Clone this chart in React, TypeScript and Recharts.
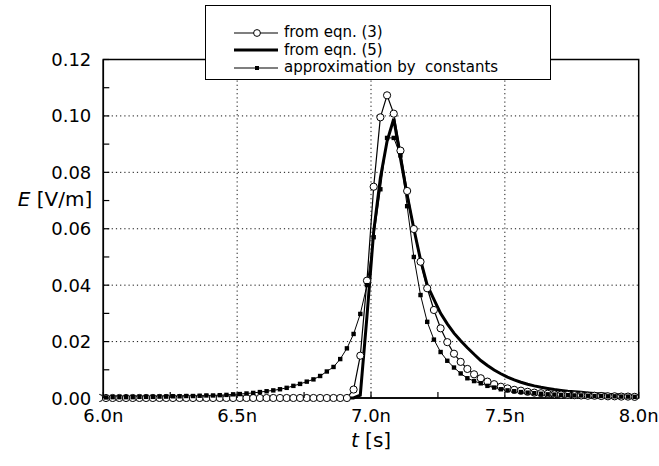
import {
  LineChart,
  Line,
  XAxis,
  YAxis,
  CartesianGrid,
  Legend,
  ReferenceArea,
} from "recharts";

// time samples in ns (0.025 ns step)
const timeNs = [
  5.96, 5.985, 6.01, 6.035, 6.06, 6.085, 6.11, 6.135, 6.16, 6.185,
  6.21, 6.235, 6.26, 6.285, 6.31, 6.335, 6.36, 6.385, 6.41, 6.435,
  6.46, 6.485, 6.51, 6.535, 6.56, 6.585, 6.61, 6.635, 6.66, 6.685,
  6.71, 6.735, 6.76, 6.785, 6.81, 6.835, 6.86, 6.885, 6.91, 6.935,
  6.96, 6.985, 7.01, 7.035, 7.06, 7.085, 7.11, 7.135, 7.16, 7.185,
  7.21, 7.235, 7.26, 7.285, 7.31, 7.335, 7.36, 7.385, 7.41, 7.435,
  7.46, 7.485, 7.51, 7.535, 7.56, 7.585, 7.61, 7.635, 7.66, 7.685,
  7.71, 7.735, 7.76, 7.785, 7.81, 7.835, 7.86, 7.885, 7.91, 7.935,
  7.96, 7.985,
];

// E [V/m] from eqn. (3) (open circles)
const eqn3 = [
  0, 0, 0, 0, 0, 0, 0, 0, 0, 0,
  0, 0, 0, 0, 0, 0, 0, 0, 0, 0,
  0, 0, 0, 0, 0, 0, 0, 0, 0, 0,
  0, 0, 0, 0, 0, 0, 0, 0, 0, 0.003,
  0.015, 0.0416, 0.0749, 0.0995, 0.1073, 0.1008, 0.0877, 0.0734, 0.0599, 0.0483,
  0.0389, 0.0312, 0.0247, 0.0198, 0.0157, 0.0128, 0.0103, 0.0084, 0.007, 0.0058,
  0.0049, 0.004, 0.0034, 0.0029, 0.0026, 0.0022, 0.0019, 0.0017, 0.0015, 0.0013,
  0.0012, 0.0011, 0.001, 0.0009, 0.0008, 0.0008, 0.0007, 0.0006, 0.0006, 0.0005,
  0.0005, 0.0004,
];

// E [V/m] from eqn. (5) (thick line)
const eqn5 = [
  0, 0, 0, 0, 0, 0, 0, 0, 0, 0,
  0, 0, 0, 0, 0, 0, 0, 0, 0, 0,
  0, 0, 0, 0, 0, 0, 0, 0, 0, 0,
  0, 0, 0, 0, 0, 0, 0, 0, 0, 0,
  0.001, 0.029, 0.059, 0.078, 0.091, 0.099, 0.085, 0.072, 0.06, 0.049,
  0.04, 0.035, 0.03, 0.0263, 0.023, 0.0203, 0.0178, 0.0155, 0.0133, 0.0115,
  0.0099, 0.0086, 0.0074, 0.0064, 0.0056, 0.0049, 0.0043, 0.0038, 0.0034, 0.003,
  0.0027, 0.0024, 0.0022, 0.002, 0.0018, 0.0016, 0.0015, 0.0013, 0.0012, 0.0011,
  0.001, 0.0009,
];

// E [V/m] approximation by constants (filled squares)
const constants = [
  0.0002, 0.0002, 0.0002, 0.0003, 0.0003, 0.0003, 0.0003, 0.0004, 0.0004, 0.0004,
  0.0005, 0.0005, 0.0006, 0.0006, 0.0007, 0.0007, 0.0008, 0.0009, 0.0009, 0.001,
  0.0011, 0.0013, 0.0014, 0.0016, 0.0018, 0.0021, 0.0024, 0.0027, 0.0031, 0.0036,
  0.0043, 0.005, 0.0058, 0.0066, 0.0078, 0.0094, 0.011, 0.0138, 0.0176, 0.0227,
  0.0298, 0.04, 0.057, 0.074, 0.0922, 0.0922, 0.086, 0.068, 0.05, 0.0365,
  0.027, 0.0207, 0.0163, 0.0132, 0.0108, 0.0087, 0.007, 0.006, 0.0052, 0.0043,
  0.0037, 0.0031, 0.0027, 0.0024, 0.0021, 0.0019, 0.0017, 0.0015, 0.0013, 0.0012,
  0.0011, 0.001, 0.0009, 0.0009, 0.0008, 0.0007, 0.0007, 0.0006, 0.0006, 0.0005,
  0.0005, 0.0004,
];

const xTicks = [6, 6.25, 6.5, 6.75, 7, 7.25, 7.5, 7.75, 8];
const xLabels = [6, 6.5, 7, 7.5, 8];
const yTicks = [0, 0.01, 0.02, 0.03, 0.04, 0.05, 0.06, 0.07, 0.08, 0.09, 0.1, 0.11, 0.12];
const yLabels = [0, 0.02, 0.04, 0.06, 0.08, 0.1, 0.12];
const legendOrder = ["eqn3", "eqn5", "constants"];

const data = timeNs.map((t, i) => ({
  t,
  eqn3: eqn3[i],
  eqn5: eqn5[i],
  constants: constants[i],
}));

const FONT = "'DejaVu Sans', Verdana, sans-serif";

const isLabel = (v: number, list: number[]) => list.some((l) => Math.abs(l - v) < 1e-9);

function XTick({ x, y, payload }: any) {
  const v = payload.value as number;
  return (
    <g>
      <line x1={x} x2={x} y1={y} y2={y - 6} stroke="#000" strokeWidth={1.2} />
      {isLabel(v, xLabels) && (
        <text x={x} y={y + 17} textAnchor="middle" dominantBaseline="central" fontSize={18} fontFamily={FONT} fill="#000">
          {`${v.toFixed(1)}n`}
        </text>
      )}
    </g>
  );
}

function YTick({ x, y, payload }: any) {
  const v = payload.value as number;
  return (
    <g>
      <line x1={x} x2={x + 6} y1={y} y2={y} stroke="#000" strokeWidth={1.2} />
      {isLabel(v, yLabels) && (
        <text x={x - 12} y={y} textAnchor="end" dominantBaseline="central" fontSize={18} fontFamily={FONT} fill="#000">
          {v.toFixed(2)}
        </text>
      )}
    </g>
  );
}

function SquareDot({ cx, cy, index }: any) {
  if (cx == null || cy == null) return <g key={index} />;
  return <rect key={index} x={cx - 2.2} y={cy - 2.2} width={4.4} height={4.4} fill="#000" />;
}

function LegendSample({ kind }: { kind: string }) {
  return (
    <svg width={46} height={12} style={{ display: "block" }}>
      <line x1={1} x2={45} y1={6} y2={6} stroke="#000" strokeWidth={kind === "eqn5" ? 3 : 1.2} />
      {kind === "eqn3" && <circle cx={24} cy={6} r={3.4} fill="#fff" stroke="#000" strokeWidth={1} />}
      {kind === "constants" && <rect x={22} y={4} width={4} height={4} fill="#000" />}
    </svg>
  );
}

function LegendBox({ payload }: any) {
  const items = [...(payload || [])].sort(
    (a: any, b: any) => legendOrder.indexOf(a.dataKey) - legendOrder.indexOf(b.dataKey)
  );
  return (
    <div
      style={{
        width: "100%",
        height: "100%",
        boxSizing: "border-box",
        border: "1px solid #000",
        background: "#fff",
        padding: "18px 0 0 27px",
        fontFamily: FONT,
        fontSize: 15,
        color: "#000",
      }}
    >
      {items.map((entry: any) => (
        <div key={entry.dataKey} style={{ display: "flex", alignItems: "center", height: 17.5 }}>
          <LegendSample kind={entry.dataKey} />
          <span style={{ marginLeft: 5, whiteSpace: "pre", lineHeight: "17px" }}>{entry.value}</span>
        </div>
      ))}
    </div>
  );
}

export default function App() {
  return (
    <div style={{ position: "absolute", left: 0, top: 0, width: 659, height: 466, background: "#fff" }}>
      <LineChart
        width={659}
        height={466}
        data={data}
        margin={{ top: 59.5, right: 20.3, bottom: 28, left: 43.3 }}
      >
        <CartesianGrid
          horizontal
          vertical
          verticalValues={xLabels.slice(1, -1)}
          horizontalValues={yLabels.slice(1, -1)}
          stroke="#111"
          strokeWidth={1}
          strokeDasharray="1.2 3"
        />
        <XAxis
          dataKey="t"
          type="number"
          domain={[6, 8]}
          allowDataOverflow
          ticks={xTicks}
          interval={0}
          height={40}
          tickSize={0}
          tickMargin={0}
          tickLine={false}
          axisLine={{ stroke: "#000", strokeWidth: 1.5 }}
          tick={<XTick />}
          label={{
            content: (props: any) => {
              const vb = props.viewBox || { x: 103, y: 398, width: 535 };
              return (
                <text
                  x={vb.x + vb.width / 2}
                  y={vb.y + 42}
                  textAnchor="middle"
                  dominantBaseline="central"
                  fontSize={20}
                  fontFamily={FONT}
                  fill="#000"
                >
                  <tspan fontStyle="italic">t</tspan> [s]
                </text>
              );
            },
          }}
        />
        <YAxis
          type="number"
          domain={[0, 0.12]}
          ticks={yTicks}
          interval={0}
          width={60}
          tickSize={0}
          tickMargin={0}
          tickLine={false}
          axisLine={{ stroke: "#000", strokeWidth: 1.5 }}
          tick={<YTick />}
          label={{
            content: (props: any) => {
              const vb = props.viewBox || { x: 43, y: 59.5, width: 60 };
              return (
                <text
                  x={vb.x + vb.width - 11}
                  y={vb.y + 139}
                  textAnchor="end"
                  dominantBaseline="central"
                  fontSize={20}
                  fontFamily={FONT}
                  fill="#000"
                >
                  <tspan fontStyle="italic">E</tspan> [V/m]
                </text>
              );
            },
          }}
        />
        <ReferenceArea x1={6} x2={8} y1={0} y2={0.12} fill="none" stroke="#000" strokeWidth={1.5} />
        <Legend
          layout="horizontal"
          verticalAlign="middle"
          align="center"
          content={<LegendBox />}
          wrapperStyle={{ position: "absolute", left: 205, top: 5, width: 346, height: 75 }}
        />
        <Line
          name="from eqn. (3)"
          dataKey="eqn3"
          type="linear"
          stroke="#000"
          strokeWidth={1.2}
          dot={{ r: 3.6, fill: "#fff", stroke: "#000", strokeWidth: 1, clipDot: false }}
          activeDot={false}
          isAnimationActive={false}
        />
        <Line
          name="from eqn. (5)"
          dataKey="eqn5"
          type="linear"
          stroke="#000"
          strokeWidth={3}
          dot={false}
          activeDot={false}
          isAnimationActive={false}
        />
        <Line
          name="approximation by  constants"
          dataKey="constants"
          type="linear"
          stroke="#000"
          strokeWidth={1}
          dot={<SquareDot />}
          activeDot={false}
          isAnimationActive={false}
        />
      </LineChart>
    </div>
  );
}
